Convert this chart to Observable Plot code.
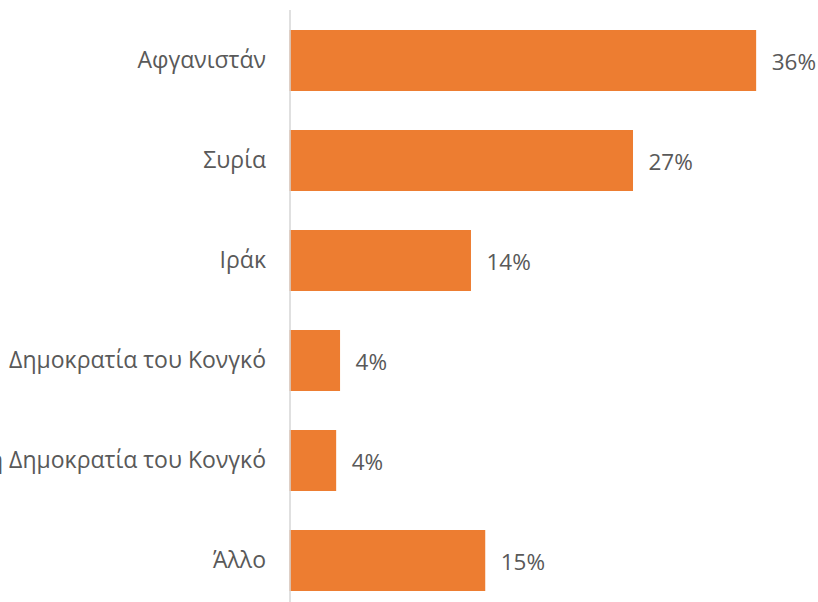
<!DOCTYPE html>
<html>
<head>
<meta charset="utf-8">
<script src="https://cdn.jsdelivr.net/npm/d3@7"></script>
<script src="https://cdn.jsdelivr.net/npm/@observablehq/plot@0.6"></script>
<style>
  html, body { margin: 0; padding: 0; background: #fff; }
  #chart { width: 818px; height: 602px; overflow: hidden; }
</style>
</head>
<body>
<div id="chart"></div>
<script>
const countries = [
  "Αφγανιστάν",
  "Συρία",
  "Ιράκ",
  "Δημοκρατία του Κονγκό",
  "Λαϊκή Δημοκρατία του Κονγκό",
  "Άλλο"
];
const shares = [36.0, 26.5, 14.0, 3.9, 3.6, 15.1];

const data = countries.map((c, i) => ({country: c, value: shares[i]}));

const chart = Plot.plot({
  width: 818,
  height: 602,
  marginLeft: 289.5,
  marginRight: 10,
  marginTop: 10,
  marginBottom: 0,
  style: {fontFamily: "'Open Sans', sans-serif", fontSize: "23px", color: "#595959", background: "#fff", overflow: "hidden"},
  x: {domain: [0, 40], axis: null},
  y: {domain: countries, paddingInner: 0.39, paddingOuter: 0.152, align: 0.64, label: null, tickSize: 0, tickPadding: 24},
  marks: [
    Plot.barX(data, {x: "value", y: "country", fill: "#ED7D31"}),
    Plot.ruleX([0], {stroke: "#d6d6d6", strokeWidth: 1.5}),
    Plot.text(data, {x: "value", y: "country", text: d => Math.round(d.value) + "%", dx: 15, dy: 2, textAnchor: "start", fill: "#595959", fontSize: 22.5})
  ]
});
document.getElementById("chart").appendChild(chart);
</script>
</body>
</html>
